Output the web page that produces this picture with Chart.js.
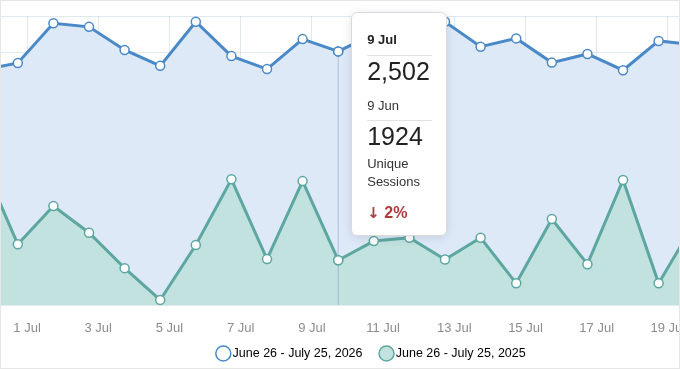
<!DOCTYPE html>
<html>
<head>
<meta charset="utf-8">
<script src="https://cdn.jsdelivr.net/npm/chart.js@4.4.1/dist/chart.umd.min.js"></script>
<style>
html, body { margin: 0; padding: 0; background: #fff; }
#wrap { position: relative; width: 680px; height: 369px; overflow: hidden; font-family: "Liberation Sans", Arial, sans-serif; }
#frame { position: absolute; left: 0; top: 0; width: 680px; height: 369px; box-sizing: border-box; border: 1px solid #e6e6e6; pointer-events: none; }
#tip { position: absolute; width: 96px; height: 224px; box-sizing: border-box; background: #fff; border: 1px solid #dadada; border-radius: 6px; box-shadow: 0 2px 10px rgba(60, 80, 110, 0.16); color: #222; }
#tip div { position: absolute; left: 15px; white-space: nowrap; line-height: 1; }
#tip .rule { height: 0; width: 65px; border-top: 1px solid #e2e2e2; }
#tip .arrow { font-family: "DejaVu Sans", sans-serif; font-size: 15px; font-weight: bold; }
</style>
</head>
<body>
<div id="wrap">
  <canvas id="canvas" width="680" height="369"></canvas>
  <div id="tip">
    <div id="tipTitle" style="top:20px;font-size:13px;font-weight:bold;"></div>
    <div class="rule" style="top:42px;"></div>
    <div id="tipValue" style="top:46px;font-size:25px;"></div>
    <div id="tipCompareTitle" style="top:86px;font-size:13px;color:#333;"></div>
    <div class="rule" style="top:107px;"></div>
    <div id="tipCompareValue" style="top:111px;font-size:25px;"></div>
    <div id="tipMetric1" style="top:144px;font-size:13px;color:#333;"></div>
    <div id="tipMetric2" style="top:162px;font-size:13px;color:#333;"></div>
    <div style="top:192px;font-size:16px;font-weight:bold;color:#b23a3c;"><span class="arrow">&#8595;</span> <span id="tipChange"></span></div>
  </div>
  <div id="frame"></div>
</div>
<script>
// day of July for each point (0 = 30 Jun, -1 = 29 Jun)
var days = [-1, 0, 1, 2, 3, 4, 5, 6, 7, 8, 9, 10, 11, 12, 13, 14, 15, 16, 17, 18, 19];
var sessions2026 = [2450, 2470, 2580, 2570, 2506, 2462, 2584, 2489, 2453, 2536, 2502, 2550, 2565, 2584, 2515, 2538, 2471, 2495, 2450, 2531, 2520];
var sessions2025 = [2196, 1968, 2074, 2000, 1902, 1814, 1966, 2148, 1927, 2143, 1924, 1977, 1986, 1926, 1986, 1860, 2038, 1913, 2146, 1860, 2027];
var tickDays = [1, 3, 5, 7, 9, 11, 13, 15, 17, 19];
var tickLabels = ['1 Jul', '3 Jul', '5 Jul', '7 Jul', '9 Jul', '11 Jul', '13 Jul', '15 Jul', '17 Jul', '19 Jul'];
var seriesLabels = ['June 26 - July 25, 2026', 'June 26 - July 25, 2025'];

var hoverIndex = 10;
var hoverTitle = '9 Jul';
var compareTitle = '9 Jun';
var metricLines = ['Unique', 'Sessions'];
var changeText = '2%';

var BLUE = 'rgb(74, 137, 200)';
var BLUE_FILL = 'rgb(222, 233, 248)';
var TEAL = 'rgb(94, 167, 160)';
var TEAL_FILL = 'rgb(193, 226, 223)';
var GRID = 'rgba(170, 188, 210, 0.35)';
var TICK_SHIFT = 0.74;   // tick marks sit a bit left of the data points
var LEGEND_SHIFT = 33;
var LEGEND_LIFT = 10.25;

function toPoints(values) {
    return days.map(function(d, i) { return {x: d, y: values[i]}; });
}

var hoverPlugin = {
    id: 'hoverLine',
    afterLayout: function(chart) {
        chart.legend.left += LEGEND_SHIFT;
        chart.legend.right += LEGEND_SHIFT;
        chart.legend.top -= LEGEND_LIFT;
        chart.legend.bottom = chart.height;
    },
    afterDatasetsDraw: function(chart) {
        var upper = chart.getDatasetMeta(0).data[hoverIndex];
        var lower = chart.getDatasetMeta(1).data[hoverIndex];
        var ctx = chart.ctx;
        ctx.save();
        ctx.strokeStyle = 'rgba(130, 160, 195, 0.55)';
        ctx.lineWidth = 1;
        ctx.beginPath();
        ctx.moveTo(upper.x, upper.y);
        ctx.lineTo(upper.x, chart.chartArea.bottom);
        ctx.stroke();
        ctx.restore();
        upper.draw(ctx);
        lower.draw(ctx);
    }
};

var config = {
    type: 'line',
    data: {
        datasets: [
            {
                label: seriesLabels[0],
                data: toPoints(sessions2026),
                borderColor: BLUE,
                backgroundColor: BLUE_FILL,
                fill: 'start',
                borderWidth: 3,
                pointRadius: 4.5,
                pointBorderWidth: 1.5,
                pointBackgroundColor: '#fff',
                pointBorderColor: BLUE,
                tension: 0,
                order: 2
            },
            {
                label: seriesLabels[1],
                data: toPoints(sessions2025),
                borderColor: TEAL,
                backgroundColor: TEAL_FILL,
                fill: 'start',
                borderWidth: 3,
                pointRadius: 4.5,
                pointBorderWidth: 1.5,
                pointBackgroundColor: '#fff',
                pointBorderColor: TEAL,
                tension: 0,
                order: 1
            }
        ]
    },
    options: {
        responsive: false,
        animation: false,
        events: [],
        layout: {autoPadding: false, padding: {top: 16, bottom: 0, left: 0, right: 0}},
        scales: {
            x: {
                type: 'linear',
                min: -0.5,
                max: 18.6,
                afterBuildTicks: function(axis) {
                    axis.ticks = tickDays.map(function(d) { return {value: d - TICK_SHIFT}; });
                },
                afterFit: function(axis) {
                    axis.paddingLeft = 0;
                    axis.paddingRight = 0;
                    axis.height = 31.5;
                },
                ticks: {
                    autoSkip: true,
                    autoSkipPadding: 0,
                    maxRotation: 0,
                    padding: 16,
                    color: '#8c8c8c',
                    font: {family: '"Liberation Sans", Arial, sans-serif', size: 13},
                    callback: function(value, index) { return tickLabels[index]; }
                },
                grid: {color: GRID, drawTicks: false},
                border: {display: false}
            },
            y: {
                min: 1800,
                max: 2600,
                ticks: {display: false, stepSize: 100},
                grid: {color: GRID, drawTicks: false},
                border: {display: false}
            }
        },
        plugins: {
            tooltip: {enabled: false},
            legend: {
                position: 'bottom',
                maxHeight: 32.5,
                labels: {
                    usePointStyle: true,
                    boxWidth: 6,
                    boxHeight: 10.6,
                    padding: 21,
                    color: '#707070',
                    font: {family: '"Liberation Sans", Arial, sans-serif', size: 12.5},
                    generateLabels: function(chart) {
                        var fills = ['#fff', TEAL_FILL];
                        return chart.data.datasets.map(function(ds, i) {
                            return {
                                text: ds.label,
                                fillStyle: fills[i],
                                strokeStyle: ds.borderColor,
                                lineWidth: 1.5,
                                pointStyle: 'circle',
                                hidden: false,
                                datasetIndex: i
                            };
                        });
                    }
                }
            }
        }
    },
    plugins: [hoverPlugin]
};

var chart = new Chart(document.getElementById('canvas').getContext('2d'), config);

// place the fixed tooltip next to the hovered point
var pt = chart.getDatasetMeta(0).data[hoverIndex];
var tip = document.getElementById('tip');
tip.style.left = (pt.x + 13) + 'px';
tip.style.top = (chart.chartArea.top - 4.5) + 'px';
document.getElementById('tipTitle').textContent = hoverTitle;
document.getElementById('tipValue').textContent = sessions2026[hoverIndex].toLocaleString('en-US');
document.getElementById('tipCompareTitle').textContent = compareTitle;
document.getElementById('tipCompareValue').textContent = String(sessions2025[hoverIndex]);
document.getElementById('tipMetric1').textContent = metricLines[0];
document.getElementById('tipMetric2').textContent = metricLines[1];
document.getElementById('tipChange').textContent = changeText;
</script>
</body>
</html>
